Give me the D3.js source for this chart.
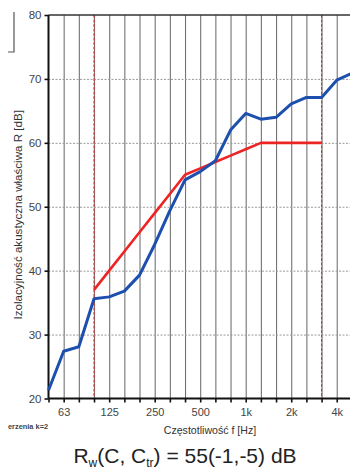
<!DOCTYPE html>
<html>
<head>
<meta charset="utf-8">
<script src="https://cdn.jsdelivr.net/npm/d3@7"></script>
<style>
  html, body { margin: 0; padding: 0; background: #fff; }
  svg { display: block; font-family: "Liberation Sans", Arial, sans-serif; }
</style>
</head>
<body>
<svg id="chart" width="350" height="470"></svg>
<script>
// Third-octave band centre frequencies (Hz)
const bands = ["50","63","80","100","125","160","200","250","315","400","500","630","800","1000","1250","1600","2000","2500","3150","4000","5000"];
// Measured sound reduction index R [dB]
const measured = [21.3, 27.4, 28.1, 35.6, 35.9, 36.8, 39.3, 44.1, 49.4, 54.2, 55.5, 57.2, 62.0, 64.6, 63.7, 64.0, 66.1, 67.1, 67.1, 69.8, 70.9];
// Shifted reference curve (ISO 717-1), 100 Hz – 3150 Hz
const refBands = ["100","125","160","200","250","315","400","500","630","800","1000","1250","1600","2000","2500","3150"];
const refValues = [37, 40, 43, 46, 49, 52, 55, 56, 57, 58, 59, 60, 60, 60, 60, 60];
// Labelled frequencies on the x axis
const xLabelBands = ["63","125","250","500","1000","2000","4000"];
const xLabelText = ["63","125","250","500","1k","2k","4k"];
const yTicks = [20, 30, 40, 50, 60, 70, 80];
// Evaluation range limits
const limitBands = ["100","3150"];

(function draw() {
  const svg = d3.select("#chart");
  const plotLeft = 48.5, plotTop = 15, plotBottom = 398.5;
  const step = 15.17;

  const x = d3.scalePoint().domain(bands).range([plotLeft, plotLeft + step * (bands.length - 1)]);
  const y = d3.scaleLinear().domain([20, 80]).range([plotBottom, plotTop]);
  const plotRight = x("5000");

  // vertical grid lines
  svg.append("g")
    .attr("transform", `translate(0,${plotBottom})`)
    .call(d3.axisBottom(x).tickValues(bands.slice(1)).tickSize(-(plotBottom - plotTop)).tickFormat(""))
    .call(g => g.select(".domain").remove())
    .call(g => g.selectAll("line").attr("stroke", "#737373").attr("stroke-width", 1.1));

  // horizontal grid lines
  svg.append("g")
    .attr("transform", `translate(${plotLeft},0)`)
    .call(d3.axisLeft(y).tickValues([30, 40, 50, 60, 70]).tickSize(-(plotRight - plotLeft)).tickFormat(""))
    .call(g => g.select(".domain").remove())
    .call(g => g.selectAll("line").attr("stroke", "#999").attr("stroke-width", 1).attr("stroke-dasharray", "2,1.5"));

  // red limit lines
  svg.append("g").selectAll("line").data(limitBands).join("line")
    .attr("x1", d => x(d)).attr("x2", d => x(d))
    .attr("y1", plotTop).attr("y2", plotBottom)
    .attr("stroke", "#e83030").attr("stroke-width", 1.1).attr("stroke-dasharray", "3,1.5");

  // top frame line
  svg.append("line")
    .attr("x1", plotLeft).attr("x2", plotRight).attr("y1", plotTop).attr("y2", plotTop)
    .attr("stroke", "#333").attr("stroke-width", 1.5);

  // x axis
  const labelMap = new Map(xLabelBands.map((b, i) => [b, xLabelText[i]]));
  svg.append("g")
    .attr("transform", `translate(0,${plotBottom})`)
    .call(d3.axisBottom(x).tickValues(bands).tickSize(4).tickPadding(6).tickFormat(d => labelMap.get(d) || ""))
    .call(g => g.select(".domain").attr("stroke", "#111").attr("stroke-width", 2).attr("d", `M${plotLeft},0H${plotRight}`))
    .call(g => g.selectAll("line").attr("stroke", "#111").attr("stroke-width", 1.6))
    .call(g => g.selectAll("text").attr("fill", "#444").attr("font-size", 11).attr("font-family", "Liberation Sans, Arial, sans-serif"));

  // y axis
  svg.append("g")
    .attr("transform", `translate(${plotLeft},0)`)
    .call(d3.axisLeft(y).tickValues(yTicks).tickSize(4).tickPadding(3).tickFormat(d3.format("d")))
    .call(g => g.select(".domain").attr("stroke", "#111").attr("stroke-width", 2).attr("d", `M0,${plotTop}V${plotBottom}`))
    .call(g => g.selectAll("line").attr("stroke", "#111").attr("stroke-width", 1.6))
    .call(g => g.selectAll("text").attr("fill", "#444").attr("font-size", 11.5).attr("font-family", "Liberation Sans, Arial, sans-serif"));

  // reference curve
  svg.append("path")
    .datum(refBands.map((b, i) => [b, refValues[i]]))
    .attr("fill", "none").attr("stroke", "#ee2424").attr("stroke-width", 2.6)
    .attr("stroke-linejoin", "round")
    .attr("d", d3.line().x(d => x(d[0])).y(d => y(d[1])));

  // measured curve
  svg.append("path")
    .datum(bands.map((b, i) => [b, measured[i]]))
    .attr("fill", "none").attr("stroke", "#1d4fae").attr("stroke-width", 3)
    .attr("stroke-linejoin", "round")
    .attr("d", d3.line().x(d => x(d[0])).y(d => y(d[1])));

  // axis titles
  svg.append("text")
    .attr("transform", `translate(22,${(plotTop + plotBottom) / 2 + 8}) rotate(-90)`)
    .attr("text-anchor", "middle")
    .attr("font-size", 11.6).attr("fill", "#333")
    .text("Izolacyjność akustyczna właściwa R [dB]");

  svg.append("text")
    .attr("x", 210).attr("y", 434)
    .attr("text-anchor", "middle")
    .attr("font-size", 10.6).attr("fill", "#333")
    .text("Częstotliwość f [Hz]");

  svg.append("text")
    .attr("x", 8).attr("y", 429)
    .attr("font-size", 7.4).attr("font-weight", "bold").attr("fill", "#444")
    .text("erzenia k=2");

  // bracket mark in the top-left corner
  svg.append("path")
    .attr("d", "M8,52H14V12")
    .attr("fill", "none").attr("stroke", "#555").attr("stroke-width", 1.2);

  // single-number rating
  const rating = svg.append("text")
    .attr("x", 185).attr("y", 463)
    .attr("text-anchor", "middle")
    .attr("font-size", 21).attr("fill", "#222");
  rating.append("tspan").text("R");
  rating.append("tspan").attr("font-size", 12).attr("dy", 3.5).text("w");
  rating.append("tspan").attr("dy", -3.5).text("(C, C");
  rating.append("tspan").attr("font-size", 12).attr("dy", 3.5).text("tr");
  rating.append("tspan").attr("dy", -3.5).text(") = 55(-1,-5) dB");
})();
</script>
</body>
</html>
